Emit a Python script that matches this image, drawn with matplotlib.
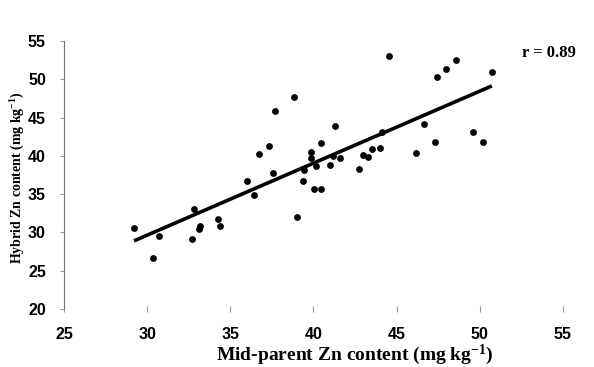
import numpy as np
import matplotlib
matplotlib.use("Agg")
import matplotlib.pyplot as plt

# Data (mid-parent vs hybrid Zn content)
mid_parent = [29.21, 30.73, 30.37, 32.84, 32.68, 33.18, 33.10, 34.24, 34.38, 36.00,
              36.41, 38.83, 37.69, 36.75, 37.35, 37.59, 38.99, 39.39, 39.45, 40.05,
              40.45, 39.85, 39.87, 40.13, 40.47, 41.00, 41.32, 41.20, 41.62, 42.72,
              43.00, 43.30, 43.50, 44.00, 44.10, 44.52, 46.15, 46.63, 47.31, 47.41,
              47.97, 48.57, 49.61, 50.21, 50.72]
hybrid = [30.58, 29.53, 26.62, 33.10, 29.10, 30.84, 30.49, 31.71, 30.84, 36.72,
          34.93, 47.73, 45.90, 40.20, 41.29, 37.72, 32.05, 36.77, 38.15, 35.63,
          35.71, 40.55, 39.76, 38.67, 41.63, 38.76, 43.85, 39.98, 39.72, 38.33,
          40.15, 39.85, 40.85, 40.98, 43.16, 53.04, 40.33, 44.20, 41.77, 50.34,
          51.30, 52.52, 43.07, 41.77, 51.00]
x_ticks = [25, 30, 35, 40, 45, 50, 55]
y_ticks = [20, 25, 30, 35, 40, 45, 50, 55]
r_label = "r = 0.89"

plt.rcParams['mathtext.fontset'] = 'custom'
plt.rcParams['mathtext.rm'] = 'Liberation Serif:bold'
plt.rcParams['mathtext.it'] = 'Liberation Serif:bold'
plt.rcParams['mathtext.bf'] = 'Liberation Serif:bold'
plt.rcParams['mathtext.default'] = 'rm'

W, H = 594, 367
fig = plt.figure(figsize=(W / 100, H / 100), dpi=100)
ax = fig.add_axes([64 / W, 1 - 309 / H, (563 - 64) / W, (309 - 41) / H])

x = np.array(mid_parent)
y = np.array(hybrid)
ax.scatter(x, y, s=24, color='black', zorder=3, linewidths=0)
k, b = np.polyfit(x, y, 1)
xl = np.array([x.min(), x.max()])
ax.plot(xl, k * xl + b, color='black', lw=2.6, solid_capstyle='butt', zorder=2)

ax.set_xlim(25, 55)
ax.set_ylim(20, 55)
ax.set_xticks(x_ticks)
ax.set_yticks(y_ticks)
tick_font = dict(family='Liberation Sans', weight='bold', size=11.5)
ax.set_xticklabels([str(v) for v in x_ticks], **tick_font)
ax.set_yticklabels([str(v) for v in y_ticks], **tick_font)
for s in ['top', 'right', 'bottom']:
    ax.spines[s].set_visible(False)
ax.spines['left'].set_color('#777777')
ax.spines['left'].set_linewidth(0.8)
ax.tick_params(axis='x', direction='inout', length=4, width=0.8, color='#999999', pad=11)
ax.tick_params(axis='y', direction='out', length=3, width=0.8, color='#999999', pad=10)

fig.text(355 / W, 1 - 355 / H, "Mid-parent Zn content (mg kg$^{-1}$)",
         family='Liberation Serif', weight='bold', size=14, ha='center', va='center')
fig.text(18 / W, 1 - 178 / H, "Hybrid Zn content (mg kg$^{-1}$)",
         family='Liberation Serif', weight='bold', size=10, ha='center', va='center',
         rotation=90)
fig.text(522 / W, 1 - 53 / H, r_label, family='Liberation Serif', weight='bold',
         size=12, ha='left', va='center')

fig.savefig("out.png", dpi=100)
